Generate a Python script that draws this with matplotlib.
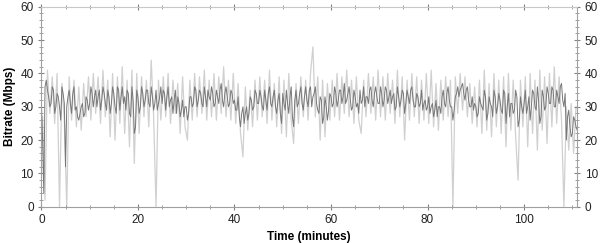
import numpy as np
import matplotlib
matplotlib.use("Agg")
import matplotlib.pyplot as plt
from matplotlib.ticker import MultipleLocator

# Dark series A: bitrate (Mbps) every 0.5 minute, t = 0 .. 111
bitrate_dark_a = [
    31, 4, 38, 33, 31, 35, 30, 33, 26, 34,
    12, 33, 31, 34, 29, 27, 28, 31, 28, 32,
    31, 34, 33, 30, 35, 32, 34, 29, 33, 31,
    34, 28, 35, 33, 31, 29, 34, 27, 32, 24,
    33, 30, 34, 32, 35, 30, 33, 31, 29, 33,
    31, 34, 33, 30, 33, 32, 28, 31, 29, 27,
    30, 28, 33, 31, 35, 32, 34, 30, 33, 35,
    32, 34, 31, 33, 35, 32, 34, 33, 31, 34,
    32, 29, 27, 28, 25, 30, 28, 32, 30, 34,
    31, 33, 29, 32, 34, 31, 33, 30, 32, 28,
    34, 29, 31, 33, 27, 32, 30, 34, 31, 33,
    32, 35, 30, 34, 31, 28, 32, 27, 30, 29,
    33, 31, 34, 32, 35, 33, 31, 34, 32, 30,
    33, 31, 35, 32, 30, 33, 35, 32, 34, 33,
    31, 34, 32, 35, 33, 31, 34, 30, 33, 32,
    34, 31, 33, 35, 32, 30, 33, 31, 29, 32,
    30, 28, 31, 29, 27, 30, 33, 31, 34, 32,
    30, 29, 34, 33, 36, 34, 35, 32, 30, 29,
    30, 28, 31, 29, 33, 28, 31, 27, 33, 30,
    32, 28, 34, 30, 27, 31, 29, 33, 26, 30,
    31, 28, 33, 30, 34, 29, 32, 27, 33, 30,
    34, 31, 35, 30, 33, 36, 32, 34, 27, 24,
    22, 26, 23,
]

# Dark series B: bitrate (Mbps), t = 0.25 .. 110.75 every 0.5 minute
bitrate_dark_b = [
    20, 36, 35, 30, 36, 28, 34, 30, 36, 31,
    30, 35, 28, 36, 30, 26, 30, 27, 33, 29,
    36, 30, 35, 33, 29, 36, 31, 35, 28, 36,
    30, 36, 29, 36, 33, 35, 28, 36, 22, 35,
    28, 36, 30, 35, 31, 36, 29, 35, 31, 36,
    35, 29, 36, 32, 28, 35, 33, 27, 32, 30,
    26, 33, 30, 36, 30, 35, 31, 36, 30, 33,
    36, 30, 35, 31, 37, 30, 36, 30, 35, 31,
    29, 33, 24, 30, 28, 26, 33, 29, 35, 31,
    35, 30, 35, 29, 36, 30, 35, 28, 34, 25,
    31, 35, 28, 36, 24, 35, 31, 36, 29, 36,
    30, 36, 33, 36, 29, 33, 25, 33, 26, 34,
    30, 36, 30, 35, 31, 37, 32, 36, 29, 35,
    30, 28, 31, 36, 33, 31, 36, 30, 36, 31,
    36, 30, 36, 31, 35, 33, 29, 36, 30, 35,
    28, 35, 31, 36, 30, 34, 30, 35, 31, 29,
    33, 30, 27, 32, 30, 28, 35, 30, 36, 30,
    26, 33, 36, 35, 37, 32, 36, 30, 33, 31,
    27, 33, 30, 35, 26, 33, 30, 35, 28, 34,
    29, 35, 25, 34, 31, 28, 35, 24, 33, 28,
    35, 30, 26, 35, 30, 36, 25, 35, 29, 36,
    31, 36, 30, 35, 31, 37, 30, 20, 29, 21,
    27, 24,
]

# Light series: raw bitrate samples, t = 0.25 .. 110.75 every 0.5 minute
bitrate_light = [
    27, 2, 41, 28, 39, 25, 40, 0, 37, 26,
    0, 39, 26, 38, 24, 36, 23, 37, 27, 39,
    26, 40, 28, 39, 25, 41, 27, 38, 21, 40,
    20, 39, 25, 42, 22, 38, 18, 41, 13, 40,
    22, 39, 27, 38, 24, 44, 27, 0, 38, 26,
    39, 27, 40, 25, 38, 28, 37, 22, 39, 24,
    20, 38, 26, 40, 27, 39, 28, 41, 26, 38,
    27, 40, 26, 39, 28, 42, 27, 38, 26, 40,
    25, 37, 22, 15, 36, 23, 35, 24, 38, 26,
    39, 27, 38, 25, 41, 26, 37, 24, 39, 22,
    38, 21, 40, 26, 19, 37, 25, 39, 27, 38,
    26, 40, 48, 27, 39, 20, 38, 21, 37, 26,
    38, 27, 40, 26, 39, 28, 41, 27, 38, 25,
    39, 26, 22, 38, 27, 40, 28, 39, 26, 41,
    27, 39, 26, 40, 28, 38, 25, 41, 27, 39,
    20, 38, 26, 40, 27, 39, 25, 38, 26, 40,
    25, 41, 24, 37, 23, 38, 26, 39, 27, 38,
    0, 39, 28, 40, 29, 39, 27, 37, 25, 36,
    24, 38, 22, 41, 23, 37, 21, 40, 24, 38,
    22, 39, 18, 40, 23, 38, 21, 8, 38, 24,
    39, 18, 40, 22, 38, 17, 41, 23, 39, 19,
    40, 24, 42, 25, 39, 26, 0, 30, 17, 31,
    16, 30,
]

x_ticks = [0, 20, 40, 60, 80, 100]
y_ticks = [0, 10, 20, 30, 40, 50, 60]

t_a = np.arange(len(bitrate_dark_a)) * 0.5
t_b = 0.25 + np.arange(len(bitrate_dark_b)) * 0.5
t_dark = np.concatenate([t_a, t_b])
v_dark = np.concatenate([bitrate_dark_a, bitrate_dark_b])
order = np.argsort(t_dark, kind='stable')
t_dark = t_dark[order]
v_dark = v_dark[order]
t_light = 0.25 + np.arange(len(bitrate_light)) * 0.5

plt.rcParams['font.family'] = ['Liberation Sans', 'DejaVu Sans']

fig = plt.figure(figsize=(6.0, 2.43), dpi=100)
ax = fig.add_axes([0.069, 0.149, 0.893, 0.823])

ax.plot(t_light, bitrate_light, color='#d0d0d0', lw=0.9, zorder=1)
ax.plot(t_dark, v_dark, color='#787878', lw=0.7, zorder=2)

ax.set_xlim(0, 111)
ax.set_ylim(0, 60)
ax.set_xticks(x_ticks)
ax.set_yticks(y_ticks)
ax.xaxis.set_minor_locator(MultipleLocator(5))
ax.yaxis.set_minor_locator(MultipleLocator(2))

for side in ['left', 'right', 'bottom', 'top']:
    ax.spines[side].set_color('#a0a0a0')
    ax.spines[side].set_linewidth(0.8)
ax.spines['top'].set_color('#c8c8c8')

ax.tick_params(axis='both', which='major', direction='inout', length=5,
               width=0.8, color='#808080', labelsize=8.5, labelcolor='#222222',
               top=True, right=True, labelright=True)
ax.tick_params(axis='both', which='minor', direction='inout', length=3,
               width=0.6, color='#909090', top=True, right=True)
ax.tick_params(axis='x', which='major', pad=3)
ax.tick_params(axis='y', which='major', pad=3)

ax.set_xlabel('Time (minutes)', fontsize=8.5, fontweight='bold', labelpad=3)
ax.set_ylabel('Bitrate (Mbps)', fontsize=8.5, fontweight='bold', labelpad=3)

fig.savefig('out.png', dpi=100)
